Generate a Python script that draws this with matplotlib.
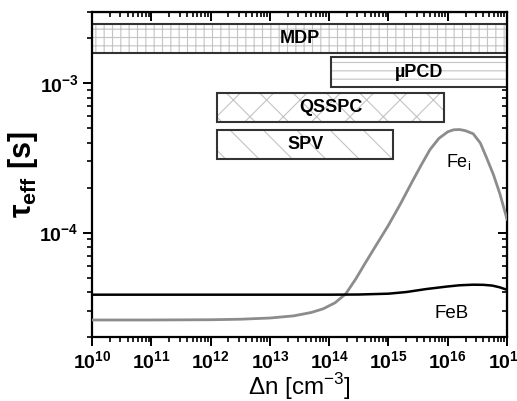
import numpy as np
import matplotlib
matplotlib.use("Agg")
import matplotlib.pyplot as plt
from matplotlib.patches import Rectangle

plt.rcParams['font.family'] = 'Liberation Sans'
plt.rcParams['hatch.color'] = '#c4c4c4'
plt.rcParams['hatch.linewidth'] = 0.8

# curves (x as log10 of injection level)
feb_logx = [10, 11, 12, 13, 14, 14.5, 15.0, 15.3, 15.64, 15.98, 16.2, 16.43, 16.6, 16.75, 16.88, 17]
feb_tau = [3.84e-5, 3.84e-5, 3.84e-5, 3.84e-5, 3.84e-5, 3.85e-5, 3.9e-5, 4.0e-5, 4.19e-5,
           4.35e-5, 4.44e-5, 4.48e-5, 4.47e-5, 4.42e-5, 4.3e-5, 4.14e-5]

fei_logx = [10, 11, 12, 12.5, 13, 13.4, 13.7, 13.9, 14.1, 14.28, 14.45, 14.6, 14.8, 15.0,
            15.2, 15.4, 15.55, 15.7, 15.85, 16.0, 16.1, 16.2, 16.3, 16.43, 16.55, 16.65,
            16.77, 16.88, 17]
fei_tau = [2.60e-5, 2.60e-5, 2.61e-5, 2.63e-5, 2.68e-5, 2.77e-5, 2.92e-5, 3.09e-5, 3.39e-5,
           3.89e-5, 4.90e-5, 6.17e-5, 8.32e-5, 1.12e-4, 1.55e-4, 2.19e-4, 2.82e-4, 3.59e-4,
           4.27e-4, 4.73e-4, 4.88e-4, 4.90e-4, 4.81e-4, 4.59e-4, 3.98e-4, 3.21e-4, 2.45e-4,
           1.82e-4, 1.23e-4]

# measurement technique ranges
box_names = ['MDP', 'µPCD', 'QSSPC', 'SPV']
box_x0 = [1e10, 1.07e14, 1.3e12, 1.3e12]
box_x1 = [1e17, 1e17, 8.7e15, 1.2e15]
box_y0 = [1.59e-3, 9.4e-4, 5.5e-4, 3.1e-4]
box_y1 = [2.49e-3, 1.5e-3, 8.6e-4, 4.85e-4]
box_hatch = ['++', '--', 'x', '\\']

x_ticks = [1e10, 1e11, 1e12, 1e13, 1e14, 1e15, 1e16, 1e17]
x_labels = [r'$\mathregular{10^{%d}}$' % e for e in range(10, 18)]
y_ticks = [1e-4, 1e-3]
y_labels = [r'$\mathregular{10^{-4}}$', r'$\mathregular{10^{-3}}$']

fig = plt.figure(figsize=(5.17, 4.01), dpi=100)
ax = fig.add_axes([92/517, 1-337/401, (507-92)/517, (337-12)/401])
ax.set_xscale('log')
ax.set_yscale('log')
ax.set_xlim(1e10, 1e17)
ax.set_ylim(2e-5, 3e-3)

for name, x0, x1, y0, y1, h in zip(box_names, box_x0, box_x1, box_y0, box_y1, box_hatch):
    ax.add_patch(Rectangle((x0, y0), x1 - x0, y1 - y0, facecolor='white', hatch=h, linewidth=0, zorder=1))
    ax.add_patch(Rectangle((x0, y0), x1 - x0, y1 - y0, fill=False, edgecolor='#333333', linewidth=1.5, zorder=2))
    xc = np.sqrt(x0 * x1)
    yc = np.sqrt(y0 * y1)
    ax.text(xc, yc, name, ha='center', va='center', fontsize=13, fontweight='bold', zorder=3)

ax.plot(10 ** np.array(fei_logx), fei_tau, color='#8c8c8c', lw=2, zorder=4)
ax.plot(10 ** np.array(feb_logx), feb_tau, color='black', lw=1.8, zorder=5)

ax.text(10 ** 15.97, 2.77e-4, r'Fe$_\mathregular{i}$', fontsize=13, ha='left', va='baseline')
ax.text(10 ** 15.77, 2.69e-5, 'FeB', fontsize=13.5, ha='left', va='baseline')

ax.set_xticks(x_ticks)
ax.set_xticklabels(x_labels, fontweight='bold', fontsize=14)
ax.set_yticks(y_ticks)
ax.set_yticklabels(y_labels, fontweight='bold', fontsize=14)

for s in ax.spines.values():
    s.set_linewidth(1.6)
ax.tick_params(which='major', length=6.5, width=1.4, pad=3)
ax.tick_params(which='minor', length=3.5, width=1.2)
ax.tick_params(which='both', direction='out', top=False, right=False)

# mirrored ticks pointing the same way (Origin style)
axt = ax.secondary_xaxis('top')
axt.set_xticks(x_ticks)
axt.tick_params(which='major', direction='in', length=6.5, width=1.4, labeltop=False)
axt.tick_params(which='minor', direction='in', length=3.5, width=1.2)
axr = ax.secondary_yaxis('right')
axr.set_yticks(y_ticks)
axr.tick_params(which='major', direction='in', length=6.5, width=1.4, labelright=False)
axr.tick_params(which='minor', direction='in', length=3.5, width=1.2)

ax.set_xlabel(r'Δn [cm$^{\mathregular{-3}}$]', fontsize=17.5)
ax.xaxis.set_label_coords(0.5, -0.105)
ax.set_ylabel(r'$\mathregular{τ_{eff}}$ [s]', fontsize=22, fontweight='bold')
ax.yaxis.set_label_coords(-0.125, 0.5)

fig.savefig('out.png', dpi=100)
